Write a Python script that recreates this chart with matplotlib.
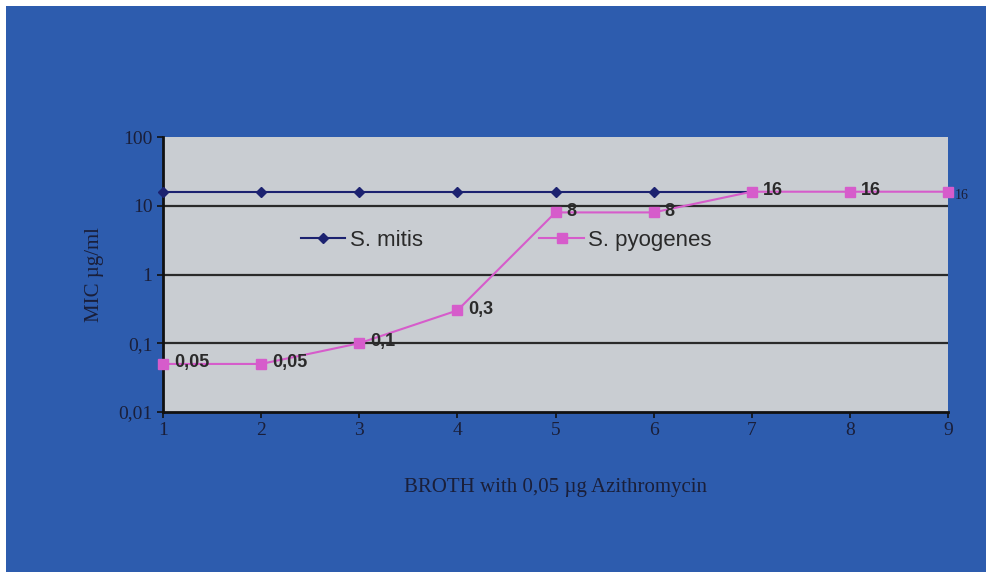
import matplotlib.pyplot as plt
from matplotlib.ticker import FixedLocator, NullLocator

# data
x_mitis = [1, 2, 3, 4, 5, 6, 7]
mitis = [16, 16, 16, 16, 16, 16, 16]
x_pyo = [1, 2, 3, 4, 5, 6, 7, 8, 9]
pyogenes = [0.05, 0.05, 0.1, 0.3, 8, 8, 16, 16, 16]
pyo_labels = ["0,05", "0,05", "0,1", "0,3", "8", "8", "16", "16", "16"]
y_ticks = [0.01, 0.1, 1, 10, 100]
y_ticklabels = ["0,01", "0,1", "1", "10", "100"]

bg_blue = "#2d5cae"
plot_bg = "#c9cdd2"
navy = "#1c2270"
pink = "#d65ccb"
txt = "#1a1f3a"

fig = plt.figure(figsize=(9.86, 5.72), dpi=100)
fig.patch.set_facecolor("white")
# blue panel with a thin white edge top/left
fig.add_artist(plt.Rectangle((0.006, 0.0), 0.994, 0.99, transform=fig.transFigure,
                             facecolor=bg_blue, edgecolor="none", zorder=0))

ax = fig.add_axes([163 / 986, 1 - 412 / 572, 785 / 986, 275 / 572])
ax.set_facecolor(plot_bg)
ax.set_yscale("log")
ax.set_ylim(0.01, 100)
ax.set_xlim(1, 9)

for v in [0.1, 1, 10]:
    ax.axhline(v, color="#2a2a2a", lw=1.6, zorder=1)

ax.plot(x_mitis, mitis, color=navy, lw=1.5, marker="D", ms=5,
        label="S. mitis", zorder=3, clip_on=False)
ax.plot(x_pyo, pyogenes, color=pink, lw=1.5, marker="s", ms=7.5,
        label="S. pyogenes", zorder=4, clip_on=False)

for i, (xv, yv, lab) in enumerate(zip(x_pyo, pyogenes, pyo_labels)):
    if i == len(x_pyo) - 1:
        ax.annotate(lab, (xv, yv), xytext=(5, -3), textcoords="offset points",
                    fontsize=10, family="Liberation Serif", color=txt,
                    va="center", annotation_clip=False)
    else:
        ax.annotate(lab, (xv, yv), xytext=(8, 1), textcoords="offset points",
                    fontsize=13, family="Liberation Sans", fontweight="bold",
                    color="#2a2a2a", va="center", zorder=5)

ax.yaxis.set_major_locator(FixedLocator(y_ticks))
ax.yaxis.set_minor_locator(NullLocator())
ax.set_yticklabels(y_ticklabels)
ax.set_xticks(x_pyo)

for sp in ["top", "right"]:
    ax.spines[sp].set_visible(False)
for sp in ["left", "bottom"]:
    ax.spines[sp].set_color("#111111")
    ax.spines[sp].set_linewidth(2)

ax.tick_params(axis="both", colors="#111111", labelcolor=txt, labelsize=14,
               length=4, width=1.2)
for lab in ax.get_xticklabels() + ax.get_yticklabels():
    lab.set_family("Liberation Serif")

ax.set_ylabel("MIC µg/ml", fontsize=15, family="Liberation Serif", color=txt, labelpad=10)
ax.set_xlabel("BROTH with 0,05 µg Azithromycin", fontsize=15,
              family="Liberation Serif", color=txt, labelpad=28)

leg = ax.legend(loc="center left", bbox_to_anchor=(0.15, 0.625), ncol=2, frameon=False,
                handlelength=2.0, columnspacing=5.25, handletextpad=0.2,
                prop={"family": "Liberation Sans", "size": 16})
for t in leg.get_texts():
    t.set_color("#2a2a2a")

fig.savefig("out.png", dpi=100, facecolor=fig.get_facecolor())
